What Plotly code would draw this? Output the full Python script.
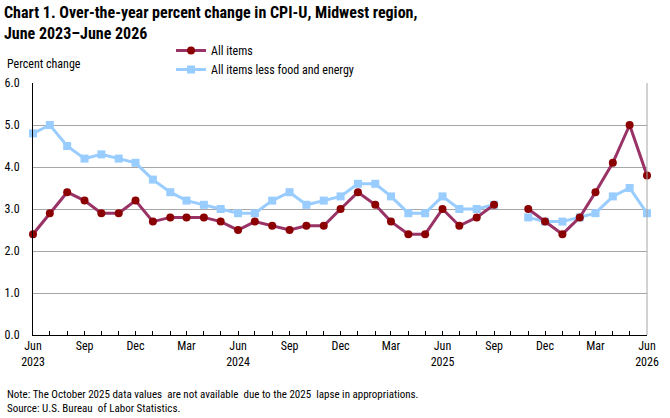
import plotly.graph_objects as go
import pandas as pd

months = pd.date_range("2023-06-01", "2026-06-01", freq="MS").strftime("%Y-%m-%d").tolist()

all_items = [2.4, 2.9, 3.4, 3.2, 2.9, 2.9, 3.2, 2.7, 2.8, 2.8, 2.8, 2.7,
             2.5, 2.7, 2.6, 2.5, 2.6, 2.6, 3.0, 3.4, 3.1, 2.7, 2.4, 2.4,
             3.0, 2.6, 2.8, 3.1, None, 3.0, 2.7, 2.4, 2.8, 3.4, 4.1, 5.0, 3.8]
core = [4.8, 5.0, 4.5, 4.2, 4.3, 4.2, 4.1, 3.7, 3.4, 3.2, 3.1, 3.0,
        2.9, 2.9, 3.2, 3.4, 3.1, 3.2, 3.3, 3.6, 3.6, 3.3, 2.9, 2.9,
        3.3, 3.0, 3.0, 3.1, None, 2.8, 2.7, 2.7, 2.8, 2.9, 3.3, 3.5, 2.9]

tick_labels = []
for i, m in enumerate(months):
    d = pd.Timestamp(m)
    if i % 3 == 0:
        lab = d.strftime("%b")
        if d.month == 6:
            lab += "<br>" + str(d.year)
        tick_labels.append(lab)
    else:
        tick_labels.append("")

y_ticks = [0, 1, 2, 3, 4, 5, 6]
y_labels = ["%.1f" % v for v in y_ticks]

FONT = "Roboto Condensed, Liberation Sans, sans-serif"

fig = go.Figure()
fig.add_trace(go.Scatter(
    x=months, y=core, name="All items less food and energy", mode="lines+markers",
    line=dict(color="#99CCFF", width=3), marker=dict(symbol="square", size=8, color="#99CCFF"),
    connectgaps=False, cliponaxis=False))
fig.add_trace(go.Scatter(
    x=months, y=all_items, name="All items", mode="lines+markers",
    line=dict(color="#993366", width=3), marker=dict(symbol="circle", size=8, color="#8B0000"),
    connectgaps=False, cliponaxis=False))

fig.update_layout(
    width=670, height=418,
    margin=dict(l=33, r=23, t=83, b=83),
    paper_bgcolor="white", plot_bgcolor="white",
    font=dict(family=FONT, size=12, color="black"),
    showlegend=True,
    legend=dict(x=0.2248, y=1.1865, xanchor="left", yanchor="top", traceorder="reversed",
                bgcolor="rgba(0,0,0,0)", font=dict(size=12), itemwidth=30,
                tracegroupgap=0),
    xaxis=dict(
        range=[months[0], months[-1]], automargin=False,
        tickvals=months, ticktext=tick_labels,
        ticks="inside", ticklen=4, tickcolor="black", tickwidth=1,
        showline=True, linecolor="black", linewidth=1,
        showgrid=False, zeroline=False, tickangle=0,
        tickfont=dict(size=12),
    ),
    yaxis=dict(
        range=[0, 6], tickvals=y_ticks, ticktext=y_labels, automargin=False,
        showline=True, linecolor="black", linewidth=1,
        showgrid=True, gridcolor="#A6A6A6", gridwidth=1,
        zeroline=False, ticks="", ticklabelstandoff=10,
        tickfont=dict(size=12),
    ),
    annotations=[
        dict(text="<b>Chart 1. Over-the-year percent change in CPI-U, Midwest region,<br>June 2023\u2013June 2026</b>",
             xref="paper", yref="paper", x=-31/614, y=(335-1)/252, xanchor="left", yanchor="top",
             align="left", showarrow=False, font=dict(size=16, family=FONT)),
        dict(text="Percent change", xref="paper", yref="paper", x=-28/614, y=(335-55)/252,
             xanchor="left", yanchor="top", showarrow=False, font=dict(size=12)),
        dict(text="Note: The October 2025 data values  are not available  due to the 2025  lapse in appropriations.<br>Source: U.S. Bureau  of Labor Statistics.",
             xref="paper", yref="paper", x=-28/614, y=-(386-335)/252, xanchor="left", yanchor="top",
             align="left", showarrow=False, font=dict(size=11)),
    ],
    shapes=[
        dict(type="line", xref="paper", yref="paper", x0=1, x1=1, y0=0, y1=1,
             line=dict(color="#A6A6A6", width=1)),
    ],
)

fig.write_html("out.html")
